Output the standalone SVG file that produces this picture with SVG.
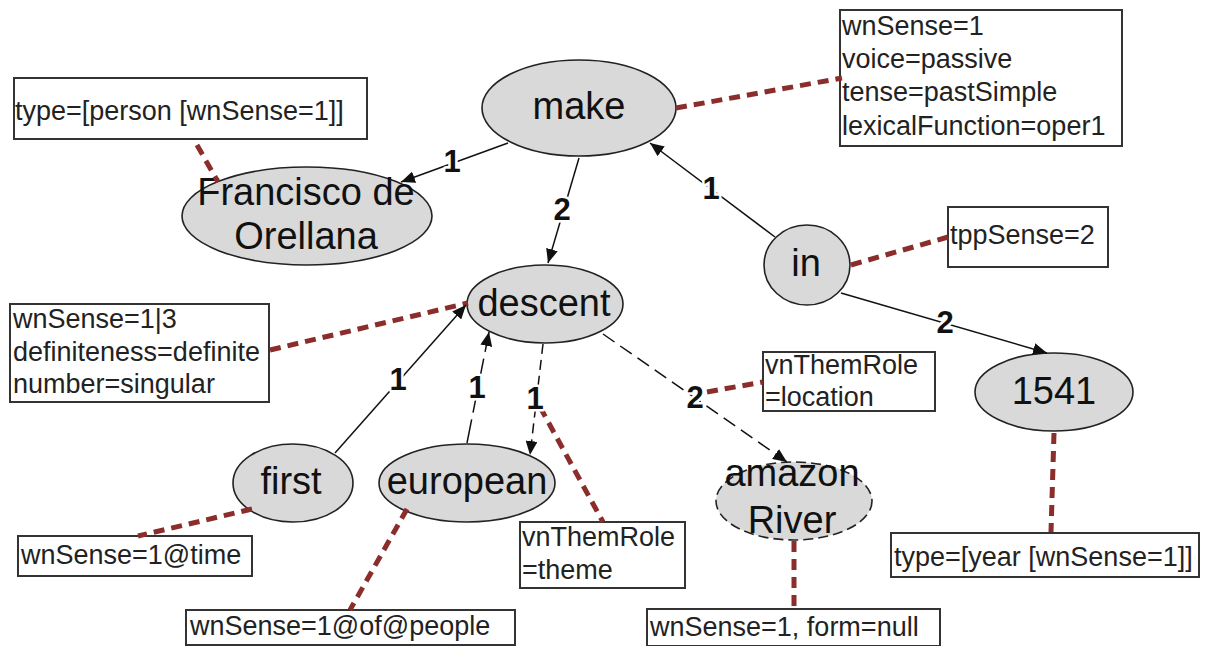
<svg xmlns="http://www.w3.org/2000/svg" width="1210" height="646" viewBox="0 0 1210 646">
  <style>
    .node ellipse { fill: #d9d9d9; stroke: #222; stroke-width: 1.6; }
    .node ellipse.dashed { stroke-dasharray: 10 5; }
    .node text { font-family: "Liberation Sans", Arial, sans-serif; font-size: 38px; fill: #111; text-anchor: middle; }
    .box rect { fill: #fff; stroke: #333; stroke-width: 2; }
    .box text { font-family: "Liberation Sans", Arial, sans-serif; font-size: 27px; fill: #222; }
    .edge { fill: none; stroke: #111; stroke-width: 1.5; marker-end: url(#arrow); }
    .long { stroke-dasharray: 24 7; }
    .short { stroke-dasharray: 10 6; }
    .mid { stroke-dasharray: 14 7; }
    .note { fill: none; stroke: #8b2d2a; stroke-width: 5; stroke-dasharray: 11 7; }
    .lbl { font-family: "Liberation Sans", Arial, sans-serif; font-size: 31px; font-weight: bold; fill: #111; text-anchor: middle; stroke: #fff; stroke-width: 5; paint-order: stroke; stroke-linejoin: round; }
  </style>
  <defs>
    <marker id="arrow" markerUnits="userSpaceOnUse" markerWidth="14" markerHeight="12" refX="14" refY="6" orient="auto">
      <path d="M0,0 L14,6 L0,12 z" fill="#111"/>
    </marker>
  </defs>
  <rect width="1210" height="646" fill="#fff"/>

  <!-- nodes -->
  <g id="make" class="node">
    <ellipse cx="579" cy="108" rx="97" ry="48"/>
    <text x="579" y="119">make</text>
  </g>
  <g id="francisco" class="node">
    <ellipse cx="307" cy="216" rx="125" ry="49"/>
    <text x="306" y="205">Francisco de</text>
    <text x="306" y="249">Orellana</text>
  </g>
  <g id="descent" class="node">
    <ellipse cx="545" cy="304" rx="78" ry="39"/>
    <text x="544" y="316">descent</text>
  </g>
  <g id="in" class="node">
    <ellipse cx="807" cy="265" rx="43" ry="40"/>
    <text x="806" y="276">in</text>
  </g>
  <g id="y1541" class="node">
    <ellipse cx="1054" cy="392" rx="79" ry="39"/>
    <text x="1054" y="404">1541</text>
  </g>
  <g id="first" class="node">
    <ellipse cx="293" cy="483" rx="60" ry="39"/>
    <text x="291" y="494">first</text>
  </g>
  <g id="european" class="node">
    <ellipse cx="467" cy="483" rx="88" ry="39"/>
    <text x="467" y="494">european</text>
  </g>
  <g id="amazon" class="node">
    <ellipse class="dashed" cx="794" cy="501" rx="78" ry="39"/>
    <text x="792" y="486">amazon</text>
    <text x="792" y="533">River</text>
  </g>

  <!-- attribute boxes -->
  <g id="box-francisco" class="box">
    <rect x="14" y="78" width="353" height="61"/>
    <text x="15" y="120">type=[person [wnSense=1]]</text>
  </g>
  <g id="box-make" class="box">
    <rect x="840" y="10" width="282" height="136"/>
    <text x="842" y="35">wnSense=1</text>
    <text x="842" y="68">voice=passive</text>
    <text x="842" y="101">tense=pastSimple</text>
    <text x="842" y="135">lexicalFunction=oper1</text>
  </g>
  <g id="box-in" class="box">
    <rect x="948" y="207" width="160" height="60"/>
    <text x="950" y="244">tppSense=2</text>
  </g>
  <g id="box-descent" class="box">
    <rect x="10" y="304" width="259" height="98"/>
    <text x="13" y="328">wnSense=1|3</text>
    <text x="13" y="361">definiteness=definite</text>
    <text x="13" y="393">number=singular</text>
  </g>
  <g id="box-first" class="box">
    <rect x="18" y="536" width="234" height="40"/>
    <text x="21" y="564">wnSense=1@time</text>
  </g>
  <g id="box-european" class="box">
    <rect x="186" y="610" width="329" height="35"/>
    <text x="190" y="635">wnSense=1@of@people</text>
  </g>
  <g id="box-theme" class="box">
    <rect x="520" y="522" width="165" height="66"/>
    <text x="522" y="546">vnThemRole</text>
    <text x="522" y="579">=theme</text>
  </g>
  <g id="box-location" class="box">
    <rect x="763" y="352" width="172" height="59"/>
    <text x="765" y="374">vnThemRole</text>
    <text x="765" y="406">=location</text>
  </g>
  <g id="box-year" class="box">
    <rect x="891" y="533" width="308" height="44"/>
    <text x="894" y="566">type=[year [wnSense=1]]</text>
  </g>
  <g id="box-amazon" class="box">
    <rect x="647" y="609" width="293" height="37"/>
    <text x="650" y="636">wnSense=1, form=null</text>
  </g>

  <!-- connectors -->
  <g id="connectors">
    <g id="notes">
      <path class="note" d="M197,145 L218,182"/>
      <path class="note" d="M676,108 L842,78"/>
      <path class="note" d="M851,265 L948,237"/>
      <path class="note" d="M270,350 L468,303"/>
      <path class="note" d="M252,509 L138,536"/>
      <path class="note" d="M407,509 L350,610"/>
      <path class="note" d="M540,407 L603,522"/>
      <path class="note" d="M707,392 L763,382"/>
      <path class="note" d="M1054,433 L1051,532"/>
      <path class="note" d="M794,541 L794,609"/>
    </g>
    <g id="edges">
      <path class="edge" d="M508,143 L401,182"/>
      <path class="edge" d="M579,158 L548,263"/>
      <path class="edge" d="M775,237 L650,143"/>
      <path class="edge" d="M841,293 L1047,353"/>
      <path class="edge" d="M335,453 L466,305"/>
      <path class="edge long" d="M467,443 L489,332"/>
      <path class="edge short" d="M543,344 L530,455"/>
      <path class="edge mid" d="M603,334 L787,462"/>
    </g>
    <g id="edge-labels">
      <text class="lbl" x="452" y="172">1</text>
      <text class="lbl" x="562" y="220">2</text>
      <text class="lbl" x="711" y="199">1</text>
      <text class="lbl" x="945" y="333">2</text>
      <text class="lbl" x="398" y="390">1</text>
      <text class="lbl" x="477" y="398">1</text>
      <text class="lbl" x="535" y="409">1</text>
      <text class="lbl" x="695" y="408">2</text>
    </g>
  </g>
</svg>
